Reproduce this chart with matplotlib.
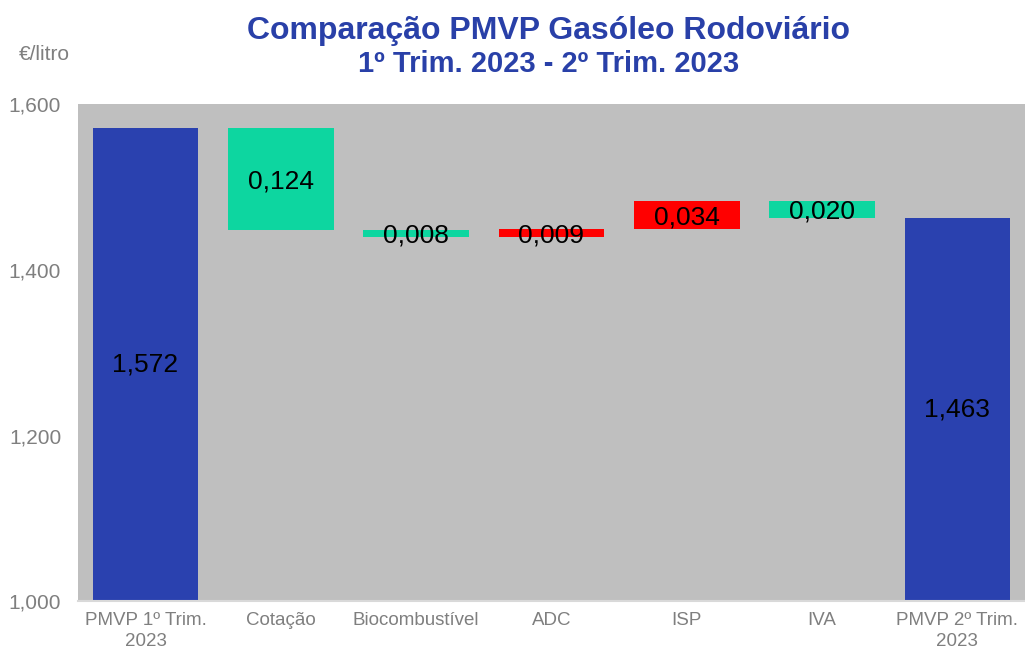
import matplotlib.pyplot as plt
import numpy as np

plt.rcParams['font.family'] = ['Liberation Sans', 'DejaVu Sans']

categories = ['PMVP 1º Trim.\n2023', 'Cotação', 'Biocombustível', 'ADC', 'ISP', 'IVA', 'PMVP 2º Trim.\n2023']
start_value = 1.572
deltas = [-0.124, -0.008, 0.009, 0.034, -0.020]
end_value = 1.463

BLUE = '#2A41AF'
GREEN = '#0DD6A0'
RED = '#FF0000'
BG = '#BFBFBF'


def fmt(v):
    return ('%.3f' % v).replace('.', ',')


fig = plt.figure(figsize=(10.25, 6.52), dpi=100)
ax = fig.add_axes([0.076, 0.078, 0.924, 0.762])
ax.set_facecolor(BG)

x = np.arange(len(categories))
w = 0.78
base = 1.0
lab = 19

# first total bar
ax.bar(x[0], start_value - base, bottom=base, width=w, color=BLUE)
ax.text(x[0], (start_value + base) / 2, fmt(start_value), ha='center', va='center', fontsize=lab)

level = start_value
for i, d in enumerate(deltas):
    lo = min(level, level + d)
    col = GREEN if d < 0 else RED
    ax.bar(x[i + 1], abs(d), bottom=lo, width=w, color=col)
    ax.text(x[i + 1], lo + abs(d) / 2 - 0.003, fmt(abs(d)), ha='center', va='center', fontsize=lab)
    level += d

ax.bar(x[-1], end_value - base, bottom=base, width=w, color=BLUE)
ax.text(x[-1], (end_value + base) / 2, fmt(end_value), ha='center', va='center', fontsize=lab)

ax.set_xlim(-0.5, len(categories) - 0.5)
ax.set_ylim(1.0, 1.6)
ax.set_yticks([1.0, 1.2, 1.4, 1.6])
ax.set_yticklabels([fmt(v) for v in [1.0, 1.2, 1.4, 1.6]])
ax.set_xticks(x)
ax.set_xticklabels(categories, linespacing=1.25)
ax.tick_params(axis='x', length=0, labelsize=13.5, colors='#7F7F7F', pad=8)
ax.tick_params(axis='y', length=0, labelsize=15, colors='#7F7F7F', pad=12)
for s in ['top', 'right', 'left']:
    ax.spines[s].set_visible(False)
ax.spines['bottom'].set_color('#D9D9D9')
ax.spines['bottom'].set_linewidth(1.5)

fig.text(0.535, 0.953, 'Comparação PMVP Gasóleo Rodoviário', ha='center', va='center',
         fontsize=23, fontweight='bold', color='#2940A8')
fig.text(0.535, 0.902, '1º Trim. 2023 - 2º Trim. 2023', ha='center', va='center',
         fontsize=21, fontweight='bold', color='#2940A8')
fig.text(0.018, 0.916, '€/litro', ha='left', va='center', fontsize=15, color='#7F7F7F')

fig.savefig('out.png', dpi=100)
